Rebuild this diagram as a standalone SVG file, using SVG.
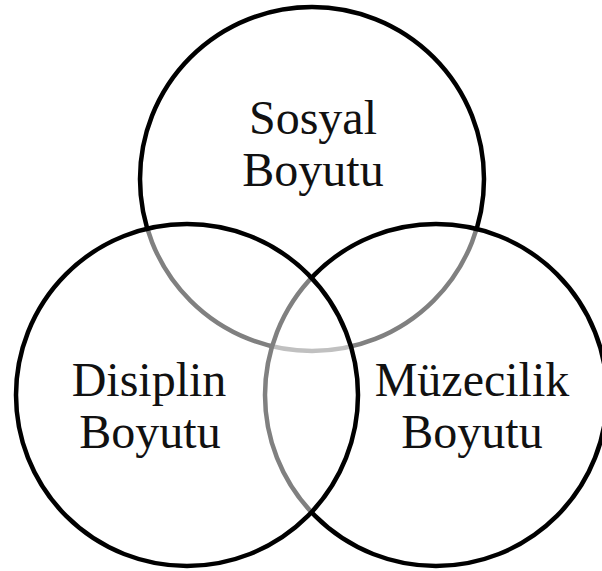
<svg xmlns="http://www.w3.org/2000/svg" width="602" height="571" viewBox="0 0 602 571">
<style>
.c{fill:#ffffff;fill-opacity:0.5;stroke:#000;stroke-width:4.5}
.t{font-family:"Liberation Serif","Times New Roman",serif;font-size:48px;fill:#111;text-anchor:middle}
</style>
<rect width="602" height="571" fill="#fff"/>
<g id="sosyal">
<circle class="c" cx="312" cy="179" r="172"/>
<text class="t" x="313" y="134">Sosyal</text>
<text class="t" x="313" y="186">Boyutu</text>
</g>
<g id="muzecilik">
<circle class="c" cx="436" cy="395" r="171"/>
<text class="t" x="472" y="396">Müzecilik</text>
<text class="t" x="472" y="448">Boyutu</text>
</g>
<g id="disiplin">
<circle class="c" cx="187" cy="395" r="171"/>
<text class="t" x="149" y="396">Disiplin</text>
<text class="t" x="150" y="448">Boyutu</text>
</g>
<g id="connectors"/>
</svg>
